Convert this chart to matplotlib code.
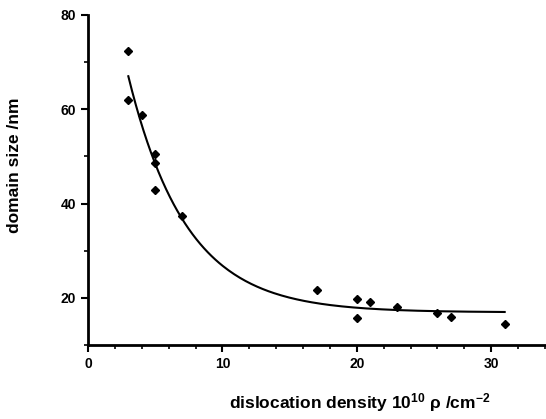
import numpy as np
import matplotlib
matplotlib.use("Agg")
import matplotlib.pyplot as plt
from matplotlib.ticker import MultipleLocator

# data
density = [3, 3, 4, 5, 5, 5, 7, 17, 20, 20, 21, 23, 26, 27, 31]
domain = [72.3, 61.9, 58.7, 50.6, 48.5, 42.8, 37.4, 21.7, 19.8, 15.7, 19.1, 18.1, 16.8, 16.0, 14.5]

x_ticks = [0, 10, 20, 30]
y_ticks = [20, 40, 60, 80]


def fit_expdec(x, y):
    # y = y0 + A*exp(-x/t), grid search on t, linear lsq for y0, A
    x = np.asarray(x, float)
    y = np.asarray(y, float)
    best = None
    for t in np.linspace(1, 15, 1401):
        M = np.column_stack([np.ones_like(x), np.exp(-x / t)])
        coef, res, _, _ = np.linalg.lstsq(M, y, rcond=None)
        err = np.sum((M @ coef - y) ** 2)
        if best is None or err < best[0]:
            best = (err, coef[0], coef[1], t)
    return best[1:]


def main():
    plt.rcParams['font.family'] = ['Liberation Sans', 'DejaVu Sans']
    plt.rcParams['font.weight'] = 'bold'
    plt.rcParams['mathtext.fontset'] = 'custom'
    plt.rcParams['mathtext.rm'] = 'Liberation Sans:bold'
    plt.rcParams['mathtext.bf'] = 'Liberation Sans:bold'
    plt.rcParams['mathtext.it'] = 'Liberation Sans:italic'

    fig = plt.figure(figsize=(5.46, 4.19), dpi=100)
    ax = fig.add_axes([88 / 546, 74 / 419, 457 / 546, 330 / 419])

    y0, A, t = fit_expdec(density, domain)
    xf = np.linspace(min(density), max(density), 200)
    ax.plot(xf, y0 + A * np.exp(-xf / t), color='black', lw=1.5)

    ax.plot(density, domain, 'D', color='black', ms=3.8, ls='none')

    ax.set_xlim(0, 34)
    ax.set_ylim(10, 80)
    ax.set_xticks(x_ticks)
    ax.set_yticks(y_ticks)
    ax.xaxis.set_minor_locator(MultipleLocator(2))
    ax.yaxis.set_minor_locator(MultipleLocator(10))

    for s in ['top', 'right']:
        ax.spines[s].set_visible(False)
    for s in ['left', 'bottom']:
        ax.spines[s].set_linewidth(2)

    ax.tick_params(which='major', length=5, width=1.5, labelsize=10, direction='out')
    ax.tick_params(which='minor', length=3, width=1.2, direction='out')

    ax.set_xlabel('dislocation density 10$^{10}$ \u03c1 /cm$^{-2}$', fontsize=12.5, fontweight='bold')
    ax.set_ylabel('domain size /nm', fontsize=12.5, fontweight='bold')
    ax.xaxis.set_label_coords(0.595, -0.14)
    ax.yaxis.set_label_coords(-0.145, 0.545)

    fig.savefig('out.png', dpi=100)


if __name__ == "__main__":
    main()
